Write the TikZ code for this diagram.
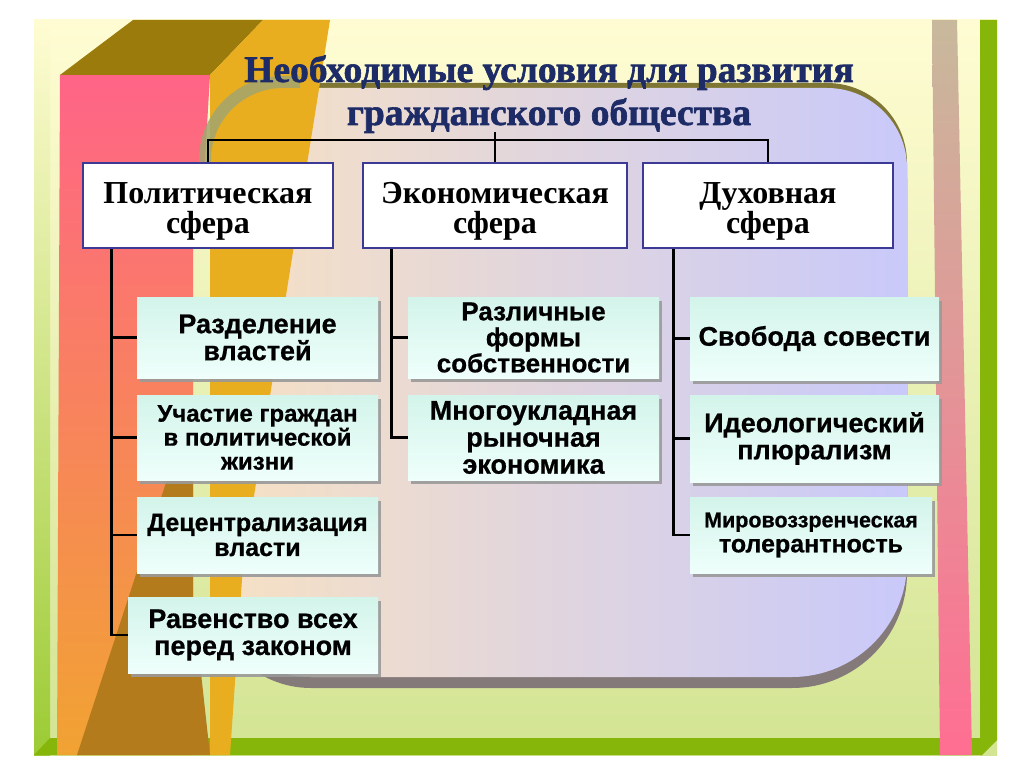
\documentclass[tikz,border=0pt]{standalone}
\usepackage{fontspec}
\setmainfont{Liberation Serif}
\setsansfont{Liberation Sans}
\newfontface\titlefont{Liberation Serif Bold}[FakeBold=1.6]
\newfontface\boxfont{Liberation Sans Bold}[FakeBold=0.7]
\usetikzlibrary{shadows,calc}
\definecolor{bgcream}{HTML}{FFFCD3}
\definecolor{bggreen}{HTML}{D3E493}
\definecolor{bgmid}{HTML}{F5F5C4}
\definecolor{frgreen}{HTML}{86B60A}
\definecolor{lgreen}{HTML}{9CCB35}
\definecolor{pinkc}{HTML}{FF6487}
\definecolor{salmon}{HTML}{F98A5A}
\definecolor{orangec}{HTML}{F1A332}
\definecolor{olivec}{HTML}{9B7B0C}
\definecolor{goldc}{HTML}{E9AE1F}
\definecolor{brownc}{HTML}{B47B1C}
\definecolor{tanc}{HTML}{C8B99C}
\definecolor{rpink}{HTML}{FF6E92}
\definecolor{rmid}{HTML}{E6A494}
\definecolor{peach}{HTML}{F7E1C3}
\definecolor{lavender}{HTML}{C9C9FA}
\definecolor{pshadow}{HTML}{857A7A}
\definecolor{tshadow}{HTML}{7F7633}
\definecolor{arcsh}{HTML}{A3A56E}
\definecolor{navy}{HTML}{1D2B66}
\definecolor{indigo}{HTML}{3D3A95}
\definecolor{mintt}{HTML}{D3F4EA}
\definecolor{mintb}{HTML}{EFFFFB}
\definecolor{bshadow}{HTML}{9A9A9A}
\tikzset{
  sphere/.style={draw=indigo, line width=2.5pt, fill=white, minimum height=85pt, inner sep=0pt, align=center, font=\rmfamily\bfseries\fontsize{32}{30}\selectfont},
  childbox/.style={top color=mintt, bottom color=mintb, inner sep=0pt, align=center, drop shadow={shadow xshift=3pt, shadow yshift=-4pt, fill=bshadow, opacity=0.9}},
  cf/.style={font=\boxfont\fontsize{#1}{#1}\selectfont},
  conn/.style={line width=2.7pt, black},
  ttl/.style={font=\titlefont\fontsize{37.5}{43}\selectfont, inner sep=0pt, anchor=base, text=navy},
}
\def\panelpath{(283,-88) -- (827,-88) arc[start angle=90,end angle=0,radius=80] -- (907,-562) arc[start angle=0,end angle=-90,radius=115] -- (311,-677) arc[start angle=270,end angle=180,radius=100] -- (211,-160) arc[start angle=180,end angle=90,radius=72] -- cycle}
\begin{document}
\begin{tikzpicture}[x=1pt,y=1pt]
\useasboundingbox (0,0) rectangle (1024,-767);
\fill[white] (0,0) rectangle (1024,-767);
% slide background
\shade[top color=bgcream, middle color=bgmid, bottom color=bggreen] (34,-20) rectangle (997,-755);
\shade[top color=bgcream, bottom color=lgreen] (34,-20) rectangle (50,-755);
% frame
\fill[frgreen] (34,-755) -- (50,-738) -- (982,-738) -- (982,-755) -- cycle;
\fill[frgreen] (980,-20) -- (997,-20) -- (997,-740) -- (982,-755) -- (980,-755) -- cycle;
% right strip
\shade[top color=tanc, middle color=rmid, bottom color=rpink] (932,-20) -- (957,-20) -- (972,-755) -- (940,-755) -- cycle;
% left pink bar
\shade[top color=pinkc, middle color=salmon, bottom color=orangec] (60,-75) -- (210,-75) -- (205,-160) -- (193,-250) -- (193,-755) -- (57,-755) -- cycle;
\fill[brownc] (193,-400) -- (193,-600) -- (210,-755) -- (77,-755) -- cycle;
\fill[olivec] (60,-75) -- (133,-20) -- (263,-20) -- (210,-75) -- cycle;
% panel with shadows
\fill[pshadow, yshift=-11pt] \panelpath;
\fill[tshadow, yshift=5pt] \panelpath;
\shade[left color=peach, right color=lavender] \panelpath;
% golden band
\fill[goldc] (263,-20) -- (330,-20) -- (243,-565) -- (230,-755) -- (210,-755) -- (210,-75) -- cycle;
\draw[arcsh, line width=12pt, opacity=0.85] (205,-178) -- (205,-160) arc[start angle=180,end angle=90,radius=78] -- (300,-82);
% title
\node[ttl] (t1) at (549,-82) {Необходимые условия для развития};
\node[ttl] (t2) at (549,-125) {гражданского общества};
% spheres
\node[sphere, minimum width=250pt] (p) at (208,-205.5) {\rule{0pt}{32pt}Политическая\\сфера};
\node[sphere, minimum width=264pt] (e) at (495,-205.5) {\rule{0pt}{32pt}Экономическая\\сфера};
\node[sphere, minimum width=250pt] (s) at (768,-205.5) {\rule{0pt}{32pt}Духовная\\сфера};
% children
\node[childbox, cf=27, minimum width=241pt, minimum height=81pt] (p1) at (257.5,-337.5) {Разделение\\властей};
\node[childbox, cf=24, minimum width=241pt, minimum height=85pt] (p2) at (257.5,-437.5) {Участие граждан\\в политической\\жизни};
\node[childbox, cf=25, minimum width=241pt, minimum height=76pt] (p3) at (257.5,-535) {Децентрализация\\власти};
\node[childbox, cf=27, minimum width=250pt, minimum height=76pt] (p4) at (253,-635) {Равенство всех\\перед законом};
\node[childbox, cf=26, minimum width=251pt, minimum height=81pt] (e1) at (533.5,-337.5) {Различные\\формы\\собственности};
\node[childbox, cf=27, minimum width=251pt, minimum height=85pt] (e2) at (533.5,-437.5) {Многоукладная\\рыночная\\экономика};
\node[childbox, cf=27, minimum width=249pt, minimum height=83pt] (s1) at (814.5,-338.5) {Свобода совести};
\node[childbox, cf=27, minimum width=249pt, minimum height=87pt] (s2) at (814.5,-438.5) {Идеологический\\плюрализм};
\node[childbox, cf=25, minimum width=242pt, minimum height=76pt] (s3) at (811,-535) {{\fontsize{21.5}{24}\selectfont Мировоззренческая}\\толерантность};
% connectors
\coordinate (hub) at (495,-140);
\coordinate (top) at (495,-132);
\draw[conn] (p.north) |- (hub) -| (s.north);
\draw[conn] (e.north) -- (top);
\draw[conn] ([xshift=30pt]p.south west) coordinate (ps) |- (p4.west);
\foreach \n in {p1,p2,p3} \draw[conn] (ps |- \n.west) -- (\n.west);
\draw[conn] ([xshift=30pt]e.south west) coordinate (es) |- (e2.west);
\draw[conn] (es |- e1.west) -- (e1.west);
\draw[conn] ([xshift=32pt]s.south west) coordinate (ss) |- (s3.west);
\foreach \n in {s1,s2} \draw[conn] (ss |- \n.west) -- (\n.west);
\end{tikzpicture}
\end{document}
